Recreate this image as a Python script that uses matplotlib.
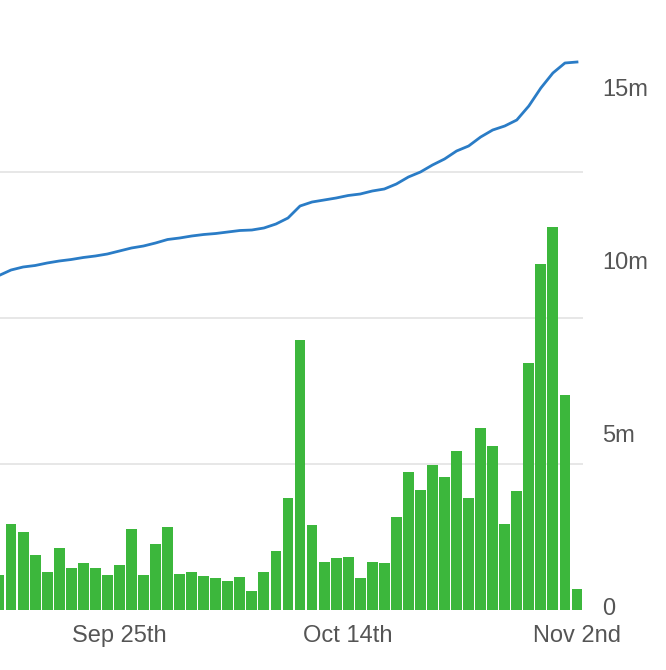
import numpy as np
import matplotlib
matplotlib.use("Agg")
import matplotlib.pyplot as plt

plt.rcParams["font.family"] = ["Liberation Sans", "DejaVu Sans"]

# daily values, Sep 15 .. Nov 2
bars_m = [1.0, 2.5, 2.25, 1.6, 1.1, 1.8, 1.2, 1.35, 1.2, 1.0,
          1.3, 2.35, 1.0, 1.9, 2.4, 1.05, 1.1, 0.98, 0.92, 0.84,
          0.95, 0.55, 1.1, 1.7, 3.25, 7.8, 2.45, 1.4, 1.5, 1.53,
          0.92, 1.4, 1.35, 2.7, 4.0, 3.47, 4.2, 3.85, 4.6, 3.25,
          5.25, 4.75, 2.5, 3.45, 7.15, 10.0, 11.07, 6.2, 0.6]
line_px = [275.5, 270, 267, 265.5, 263, 261, 259.5, 257.5, 256, 254,
           251, 248, 246, 243, 239.5, 238, 236, 234.5, 233.5, 232,
           230.5, 230, 228, 224, 218, 206, 202, 200, 198, 195.5,
           194, 191, 189, 184, 177, 172, 165, 159, 151, 146,
           137, 130, 126, 120, 106, 88, 73, 63, 62]
# cumulative line in left-axis units (gridline spacing = 1)
line_vals = [(610 - p) / 146 for p in line_px]
tick_days = [10, 29, 48]
tick_labels = ["Sep 25th", "Oct 14th", "Nov 2nd"]

fig = plt.figure(figsize=(6.66, 6.70), dpi=100)
ax = fig.add_axes([0, 60 / 670, 583 / 666, 610 / 670])
ax2 = ax.twinx()
x = np.arange(len(bars_m))

for g in [1, 2, 3]:
    ax2.axhline(g * 146 / 34.6, color="#e3e3e3", linewidth=1.2, zorder=0)
ax2.bar(x, bars_m, width=0.9, color="#3cb73c", zorder=2)
ax2.set_ylim(0, 610 / 34.6)
ax2.set_yticks([0.1, 5.1, 10.1, 15.1])
ax2.set_yticklabels(["0", "5m", "10m", "15m"])
ax2.tick_params(axis="y", length=0, pad=14, labelsize=17, labelcolor="#555555")

ax.plot(x, line_vals, color="#2a7cc6", linewidth=2.0, zorder=3)
ax.set_ylim(0, 610 / 146)
ax.tick_params(axis="y", length=0, labelleft=False)
ax.set_yticks([])
ax.set_xlim(0.083, 48.5)
ax.set_xticks(tick_days)
ax.set_xticklabels(tick_labels)
ax.tick_params(axis="x", length=0, pad=11, labelsize=17, labelcolor="#555555")

# keep the line above the bars
ax.set_zorder(ax2.get_zorder() + 1)
ax.patch.set_visible(False)

for a in (ax, ax2):
    for s in a.spines.values():
        s.set_visible(False)

fig.savefig("out.png", dpi=100)
